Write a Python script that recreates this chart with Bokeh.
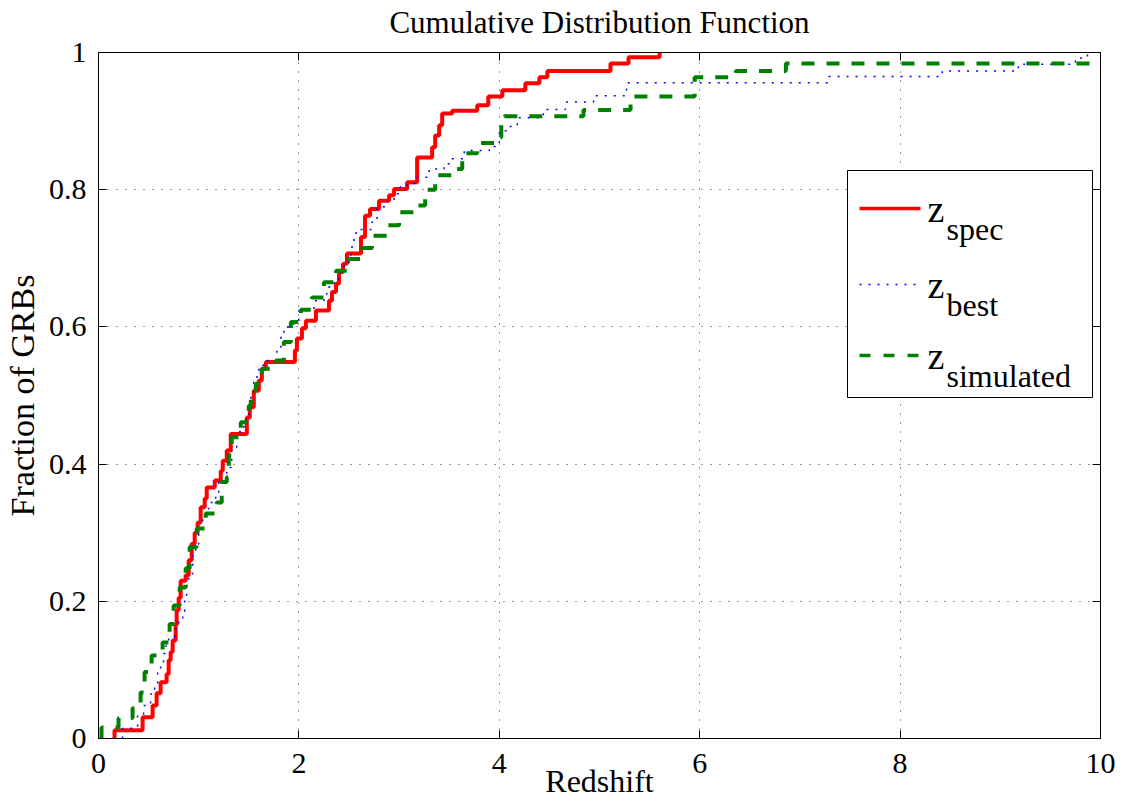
from bokeh.plotting import figure
from bokeh.models import (Range1d, LinearAxis, FixedTicker, BoxAnnotation, Label, Arrow,
                          CustomLabelingPolicy)
from bokeh.embed import file_html
from bokeh.resources import INLINE

# Empirical CDFs: redshift at each step and the cumulative fraction reached there
spec_z = [0.16, 0.44, 0.54, 0.58, 0.62, 0.68, 0.70, 0.72, 0.74, 0.77, 0.78, 0.80, 0.82,
          0.87, 0.90, 0.93, 0.96, 0.99, 1.02, 1.06, 1.08, 1.16, 1.22, 1.24, 1.28, 1.32,
          1.48, 1.51, 1.55, 1.60, 1.63, 1.67, 1.96, 1.98, 2.03, 2.07, 2.17, 2.30, 2.33,
          2.37, 2.40, 2.44, 2.48, 2.62, 2.66, 2.71, 2.80, 2.90, 2.95, 3.08, 3.18, 3.33,
          3.36, 3.40, 3.43, 3.53, 3.78, 3.89, 4.03, 4.26, 4.40, 4.48, 5.11, 5.29, 5.60]
spec_frac = [0.012, 0.031, 0.048, 0.066, 0.082, 0.094, 0.114, 0.126, 0.143, 0.165, 0.187,
             0.205, 0.230, 0.238, 0.260, 0.284, 0.300, 0.315, 0.337, 0.350, 0.366, 0.376,
             0.390, 0.405, 0.420, 0.444, 0.468, 0.483, 0.507, 0.522, 0.539, 0.549, 0.566,
             0.583, 0.598, 0.609, 0.624, 0.638, 0.651, 0.663, 0.680, 0.692, 0.707, 0.731,
             0.762, 0.772, 0.784, 0.792, 0.801, 0.811, 0.847, 0.862, 0.879, 0.894, 0.911,
             0.915, 0.923, 0.936, 0.945, 0.955, 0.964, 0.973, 0.984, 0.993, 1.000]

best_z = [0.24, 0.39, 0.45, 0.52, 0.56, 0.59, 0.62, 0.65, 0.67, 0.70, 0.76, 0.80, 0.84,
          0.86, 0.88, 0.90, 0.94, 0.97, 1.00, 1.03, 1.07, 1.10, 1.17, 1.20, 1.28, 1.33,
          1.38, 1.45, 1.47, 1.52, 1.55, 1.60, 1.67, 1.78, 1.82, 1.85, 1.95, 2.00, 2.15,
          2.25, 2.28, 2.35, 2.40, 2.45, 2.50, 2.53, 2.55, 2.57, 2.73, 2.78, 2.88, 2.95,
          3.01, 3.08, 3.18, 3.30, 3.45, 3.53, 3.65, 3.90, 3.96, 4.00, 4.08, 4.18, 4.44,
          4.66, 4.94, 5.27, 7.29, 8.42, 9.18, 9.75, 9.87]
best_frac = [0.015, 0.034, 0.048, 0.065, 0.077, 0.099, 0.112, 0.124, 0.135, 0.148, 0.160,
             0.172, 0.185, 0.204, 0.223, 0.240, 0.267, 0.283, 0.300, 0.318, 0.335, 0.344,
             0.359, 0.374, 0.395, 0.425, 0.447, 0.460, 0.473, 0.505, 0.527, 0.544, 0.551,
             0.566, 0.587, 0.600, 0.609, 0.624, 0.638, 0.648, 0.658, 0.670, 0.680, 0.692,
             0.705, 0.719, 0.731, 0.742, 0.753, 0.775, 0.784, 0.794, 0.804, 0.809, 0.818,
             0.830, 0.838, 0.845, 0.857, 0.863, 0.869, 0.886, 0.892, 0.905, 0.917, 0.928,
             0.937, 0.956, 0.965, 0.973, 0.983, 0.992, 1.000]

sim_z = [0.03, 0.20, 0.34, 0.42, 0.46, 0.53, 0.64, 0.71, 0.75, 0.81, 0.87, 0.91, 0.98,
         1.07, 1.18, 1.23, 1.28, 1.30, 1.33, 1.42, 1.50, 1.52, 1.57, 1.63, 1.77, 1.85,
         1.92, 2.02, 2.13, 2.25, 2.37, 2.48, 2.63, 2.73, 2.88, 3.00, 3.18, 3.26, 3.36,
         3.53, 3.63, 3.78, 3.95, 4.02, 4.05, 4.84, 5.31, 5.95, 6.36, 6.86]
sim_frac = [0.016, 0.030, 0.044, 0.067, 0.097, 0.121, 0.140, 0.167, 0.194, 0.220, 0.248,
            0.279, 0.306, 0.328, 0.344, 0.374, 0.381, 0.413, 0.439, 0.461, 0.485, 0.507,
            0.517, 0.539, 0.551, 0.578, 0.607, 0.625, 0.643, 0.665, 0.682, 0.699, 0.715,
            0.733, 0.748, 0.767, 0.777, 0.800, 0.821, 0.830, 0.853, 0.868, 0.876, 0.896,
            0.907, 0.916, 0.936, 0.964, 0.973, 0.984]

x_ticks = [0, 2, 4, 6, 8, 10]
y_ticks = [0, 0.2, 0.4, 0.6, 0.8, 1]
y_tick_labels = {0: "0", 0.2: "0.2", 0.4: "0.4", 0.6: "0.6", 0.8: "0.8", 1: "1"}
series_names = ["spec", "best", "simulated"]
title_text = "Cumulative Distribution Function"
x_label = "Redshift"
y_label = "Fraction of GRBs"

X_MAX = 10.0
SERIF = "Liberation Serif"

p = figure(width=1122, height=801, x_range=Range1d(0, X_MAX), y_range=Range1d(0, 1),
           output_backend="svg", toolbar_location=None,
           min_border_left=98, min_border_right=22, min_border_top=52, min_border_bottom=63,
           background_fill_color="white", border_fill_color="white")

p.outline_line_color = "black"
p.outline_line_width = 1


def style_axis(ax, ticks, show_labels):
    ax.ticker = FixedTicker(ticks=ticks)
    ax.major_tick_in = 8
    ax.major_tick_out = 0
    ax.minor_tick_line_color = None
    ax.axis_line_color = "black"
    ax.axis_line_width = 1
    ax.major_tick_line_color = "black"
    ax.major_label_text_font = SERIF
    ax.major_label_text_color = "black"
    ax.axis_label_text_font = SERIF
    ax.axis_label_text_font_style = "normal"
    ax.axis_label_text_color = "black"
    if show_labels:
        ax.major_label_text_font_size = "30px"
    else:
        # box axes on the top and right carry ticks only
        ax.major_label_text_font_size = "1px"
        ax.major_label_standoff = 0
        ax.major_label_policy = CustomLabelingPolicy(
            code="for (const i of indices) indices.unset(i)")


style_axis(p.xaxis[0], x_ticks, True)
style_axis(p.yaxis[0], y_ticks, True)
p.xaxis.major_label_standoff = 15
p.yaxis.major_label_standoff = 12
p.yaxis.major_label_overrides = y_tick_labels

p.xaxis.axis_label = x_label
p.xaxis.axis_label_text_font_size = "32px"
p.xaxis.axis_label_standoff = -13

p.yaxis.axis_label = y_label
p.yaxis.axis_label_text_font_size = "34px"
p.yaxis.axis_label_standoff = 5

# the top box axis carries the chart title as its label
top_axis = LinearAxis(axis_label=title_text)
style_axis(top_axis, x_ticks, False)
top_axis.axis_label_text_font_size = "31px"
top_axis.axis_label_standoff = 9
p.add_layout(top_axis, "above")

right_axis = LinearAxis()
style_axis(right_axis, y_ticks, False)
p.add_layout(right_axis, "right")

for g in (p.xgrid[0], p.ygrid[0]):
    g.grid_line_color = "black"
    g.grid_line_alpha = 0.8
    g.grid_line_width = 1
    g.grid_line_dash = "1 8"
p.xgrid.ticker = FixedTicker(ticks=x_ticks[1:-1])
p.ygrid.ticker = FixedTicker(ticks=y_ticks[1:-1])


def cdf_path(z, frac, extend_to=None):
    xs = [z[0]] + list(z)
    ys = [0.0] + list(frac)
    if extend_to is not None:
        xs.append(extend_to)
        ys.append(ys[-1])
    return xs, ys


styles = [
    dict(color="#ff0000", line_width=4, line_dash="solid"),
    dict(color="#0000ff", line_width=1.5, line_dash="2 7"),
    dict(color="#008000", line_width=4, line_dash="13 12"),
]

x, y = cdf_path(spec_z, spec_frac)
p.step(x, y, mode="after", **styles[0])
x, y = cdf_path(best_z, best_frac)
p.step(x, y, mode="after", **styles[1])
x, y = cdf_path(sim_z, sim_frac, extend_to=X_MAX)
p.step(x, y, mode="after", **styles[2])

# Legend drawn by hand (inside the frame) so the subscripts can be set as smaller text;
# positions are given in canvas pixels of the plot frame and mapped to data units
FL, FR, FT, FB = 98, 1100, 52, 738


def px_x(v):
    return (v - FL) / (FR - FL) * X_MAX


def px_y(v):
    return (FB - v) / (FB - FT)


p.add_layout(BoxAnnotation(left=px_x(847), right=px_x(1092), top=px_y(170), bottom=px_y(397),
                           fill_color="white", fill_alpha=1.0, line_color="black",
                           line_width=1, line_alpha=1.0))

row_baselines = [208, 284, 355]
legend_widths = [3.5, 1.5, 3.5]
legend_dash = ["solid", "2 7", "11 13"]
for name, st, yb, lw, dash in zip(series_names, styles, row_baselines, legend_widths, legend_dash):
    p.add_layout(Arrow(x_start=px_x(859), x_end=px_x(920), y_start=px_y(yb), y_end=px_y(yb),
                       end=None, line_color=st["color"], line_width=lw, line_dash=dash))
    p.add_layout(Label(x=px_x(927), y=px_y(yb), text="z", text_font=SERIF,
                       text_font_size="38px", text_baseline="alphabetic", text_color="black"))
    p.add_layout(Label(x=px_x(946), y=px_y(yb + 20), text=name, text_font=SERIF,
                       text_font_size="32px", text_baseline="alphabetic", text_color="black"))

open("out.html", "w").write(file_html(p, INLINE))
